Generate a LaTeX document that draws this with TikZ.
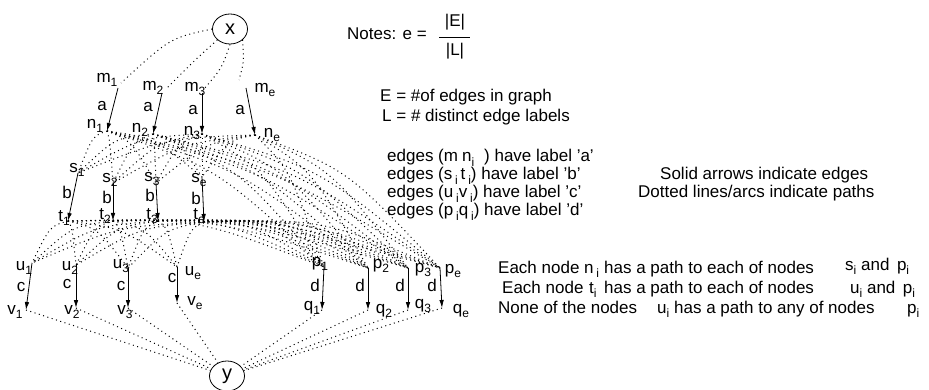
\documentclass[tikz,border=0pt]{standalone}
\usepackage{fontspec}
\setmainfont{Liberation Sans}
\usetikzlibrary{arrows.meta,calc,shapes.geometric}
\newcommand\sbs[1]{\raisebox{-0.5ex}{\fontsize{12}{12}\selectfont #1}}
\begin{document}
\begin{tikzpicture}[x=1pt,y=-1pt,
  font=\fontsize{17}{19}\selectfont,
  lab/.style={inner sep=0pt, anchor=center},
  txt/.style={inner sep=0pt, anchor=base west},
  edge/.style={-{Latex[length=8pt,width=4.5pt]}, line width=0.8pt},
  pth/.style={line width=1pt, dash pattern=on 1pt off 3.5pt},
  circ/.style={draw, ellipse, line width=0.8pt, minimum width=35pt, minimum height=30pt, inner sep=0pt, font=\fontsize{20}{20}\selectfont}]
\useasboundingbox (0,0) rectangle (929,390);

% terminal nodes
\node[circ] (X) at (230,29) {x};
\node[circ] (Y) at (227,376) {y};

% arrow end points
\coordinate (m1) at (118,88); \coordinate (m2) at (162,93); \coordinate (m3) at (202,93); \coordinate (me) at (246,88);
\coordinate (n1) at (107,131); \coordinate (n2) at (153,134); \coordinate (n3) at (202,134); \coordinate (ne) at (255,135);
\coordinate (s1) at (78,173); \coordinate (s2) at (113,183); \coordinate (s3) at (156,183); \coordinate (se) at (202,177);
\coordinate (t1) at (68,221); \coordinate (t2) at (113,221); \coordinate (t3) at (158,221); \coordinate (te) at (204,222);
\coordinate (u1) at (32,263); \coordinate (u2) at (76,265); \coordinate (u3) at (128,268); \coordinate (ue) at (177,267);
\coordinate (v1) at (26,310); \coordinate (v2) at (76,308); \coordinate (v3) at (128,308); \coordinate (ve) at (177,303);
\coordinate (p1) at (324,267); \coordinate (p2) at (368,268); \coordinate (p3) at (408,268); \coordinate (pe) at (440,268);
\coordinate (q1) at (322,310); \coordinate (q2) at (368,310); \coordinate (q3) at (408,310); \coordinate (qe) at (442,308);
% dotted end points near the m labels
\coordinate (mt1) at (121,83); \coordinate (mt2) at (167,88); \coordinate (mt3) at (204,89); \coordinate (mte) at (239,80);

% labels
\node[lab] (m1l) at (107,80) {m\sbs{1}};
\node[lab] (m2l) at (153,88) {m\sbs{2}};
\node[lab] (m3l) at (195,89) {m\sbs{3}};
\node[lab] (mel) at (265,90) {m\sbs{e}};
\node[lab] (al1) at (102,106) {a};
\node[lab] (al2) at (148,107) {a};
\node[lab] (al3) at (193,110) {a};
\node[lab] (al4) at (240,110) {a};
\node[lab] (n1l) at (95,126) {n\sbs{1}};
\node[lab] (n2l) at (140,130) {n\sbs{2}};
\node[lab] (n3l) at (192,133) {n\sbs{3}};
\node[lab] (nel) at (272,135) {n\sbs{e}};
\node[lab] (s1l) at (77,170) {s\sbs{1}};
\node[lab] (s2l) at (110,180) {s\sbs{2}};
\node[lab] (s3l) at (152,179) {s\sbs{3}};
\node[lab] (sel) at (199,180) {s\sbs{e}};
\node[lab] (bl1) at (67,192) {b};
\node[lab] (bl2) at (107,197) {b};
\node[lab] (bl3) at (150,195) {b};
\node[lab] (bl4) at (196,198) {b};
\node[lab] (t1l) at (64,218) {t\sbs{1}};
\node[lab] (t2l) at (105,216) {t\sbs{2}};
\node[lab] (t3l) at (152,216) {t\sbs{3}};
\node[lab] (tel) at (199,216) {t\sbs{e}};
\node[lab] (u1l) at (24,268) {u\sbs{1}};
\node[lab] (u2l) at (70,268) {u\sbs{2}};
\node[lab] (u3l) at (121,266) {u\sbs{3}};
\node[lab] (uel) at (193,273) {u\sbs{e}};
\node[lab] (cl1) at (21,287) {c};
\node[lab] (cl2) at (67,284) {c};
\node[lab] (cl3) at (121,286) {c};
\node[lab] (cl4) at (172,278) {c};
\node[lab] (v1l) at (15,312) {v\sbs{1}};
\node[lab] (v2l) at (72,312) {v\sbs{2}};
\node[lab] (v3l) at (125,312) {v\sbs{3}};
\node[lab] (vel) at (195,303) {v\sbs{e}};
\node[lab] (p1l) at (320,264) {p\sbs{1}};
\node[lab] (p2l) at (381,266) {p\sbs{2}};
\node[lab] (p3l) at (423,270) {p\sbs{3}};
\node[lab] (pel) at (453,271) {p\sbs{e}};
\node[lab] (dl1) at (315,285) {d};
\node[lab] (dl2) at (360,285) {d};
\node[lab] (dl3) at (400,285) {d};
\node[lab] (dl4) at (432,285) {d};
\node[lab] (q1l) at (312,308) {q\sbs{1}};
\node[lab] (q2l) at (384,311) {q\sbs{2}};
\node[lab] (q3l) at (423,306) {q\sbs{3}};
\node[lab] (qel) at (461,311) {q\sbs{e}};

% solid edges
\foreach \k in {1,2,3,e} {
  \draw[edge] (m\k) -- (n\k);
  \draw[edge] (s\k) -- (t\k);
  \draw[edge] (u\k) -- (v\k);
  \draw[edge] (p\k) -- (q\k);
}

% dotted paths
\draw[pth] (X.west) .. controls (170,38) .. (mt1);
\draw[pth] (X.south west) .. controls (195,60) .. (mt2);
\draw[pth] (X.south) .. controls (222,68) .. (mt3);
\draw[pth] (X.south east) .. controls (244,62) .. (mte);
\foreach \i in {1,2,3,e} {
  \foreach \j in {1,2,3,e} {
    \draw[pth] (n\i) .. controls ($(n\i)!.5!(s\j)+(0,-16)$) .. (s\j);
    \draw[pth] (n\i) .. controls ($(n\i)!.5!(p\j)+(0,-32)$) .. (p\j);
    \draw[pth] (t\i) .. controls ($(t\i)!.5!(u\j)+(0,-16)$) .. (u\j);
    \draw[pth] (t\i) .. controls ($(t\i)!.5!(p\j)+(0,-26)$) .. (p\j);
  }
  \draw[pth] (v\i) -- (Y);
  \draw[pth] (q\i) -- (Y);
}

% notes
\node[txt] (notes) at (347,40) {Notes: e =};
\node[lab] (fE) at (455,22) {|E|};
\node[lab] (fL) at (455,51) {|L|};
\coordinate (fb1) at (439,37); \coordinate (fb2) at (470,37);
\draw[line width=0.8pt] (fb1) -- (fb2);
\node[txt] (Edef) at (380,102) {E = \#of edges in graph};
\node[txt] (Ldef) at (382,122) {L = \# distinct edge labels};
\node[txt] (ea) at (387,162) {edges (m\hspace{4pt}n\sbs{i}\hspace{10pt}) have label 'a'};
\node[txt] (eb) at (387,180) {edges (s\,\sbs{i}\,t\,\sbs{i}) have label 'b'};
\node[txt] (ec) at (387,198) {edges (u\,\sbs{i}v\,\sbs{i}) have label 'c'};
\node[txt] (ed) at (387,216) {edges (p\,\sbs{i}q\,\sbs{i}) have label 'd'};
\node[txt] (solid) at (660,180) {Solid arrows indicate edges};
\node[txt] (dotd) at (638,198) {Dotted lines/arcs indicate paths};

% bottom right statements
\node[txt] (r1a) at (498,273) {Each node};
\node[txt] (r1b) at (584,273) {n\,\sbs{i}};
\node[txt] (r1c) at (604,273) {has a path to each of nodes};
\node[txt] (r1d) at (845,270) {s\sbs{i} and\, p\sbs{i}};
\node[txt] (r2a) at (502,293) {Each node};
\node[txt] (r2b) at (589,293) {t\sbs{i}};
\node[txt] (r2c) at (604,293) {has a path to each of nodes};
\node[txt] (r2d) at (850,293) {u\sbs{i} and\, p\sbs{i}};
\node[txt] (r3a) at (498,313) {None of the nodes};
\node[txt] (r3b) at (657,313) {u\sbs{i}};
\node[txt] (r3c) at (674,313) {has a path to any of nodes};
\node[txt] (r3d) at (907,313) {p\sbs{i}};
\end{tikzpicture}
\end{document}
